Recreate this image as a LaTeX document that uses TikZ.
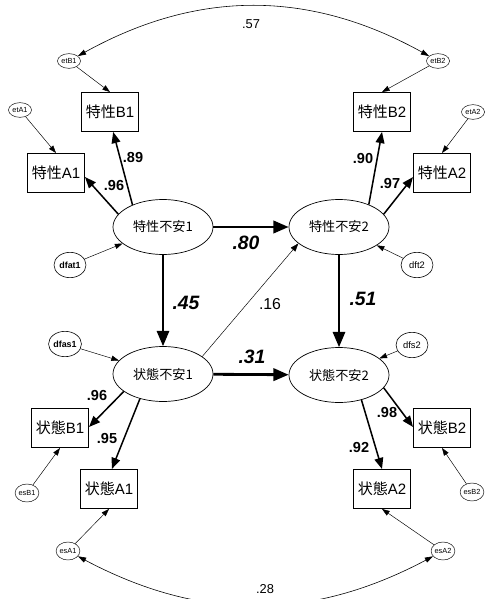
\documentclass[tikz,border=0pt]{standalone}
\usepackage{fontspec}
\setmainfont{Liberation Sans}
\newfontfamily\jp{Noto Sans CJK JP}
\usetikzlibrary{arrows.meta,shapes.geometric}

\begin{document}
\begin{tikzpicture}[x=0.03cm, y=-0.03cm,
    obs/.style={draw, line width=0.8pt, minimum width=1.71cm, minimum height=1.17cm,
                inner sep=1pt, font=\fontsize{12.8}{14}\selectfont},
    lat/.style={draw, ellipse, line width=0.6pt, minimum width=3cm, minimum height=1.65cm,
                inner sep=0pt, font=\jp\fontsize{11.2}{13}\selectfont},
    err/.style={draw, ellipse, line width=0.4pt, minimum width=0.69cm, minimum height=0.44cm,
                inner sep=0pt, font=\fontsize{6.3}{7}\selectfont},
    dis/.style={draw, ellipse, line width=0.5pt, minimum width=0.96cm, minimum height=0.76cm,
                inner sep=0pt, font=\fontsize{8}{9}\selectfont},
    load/.style={line width=1.3pt, -{Triangle[length=9.5pt,width=7.5pt]}},
    strong/.style={line width=2.4pt, -{Triangle[length=13pt,width=10.5pt]}},
    medium/.style={line width=1.8pt, -{Triangle[length=13pt,width=10.5pt]}},
    weak/.style={line width=0.4pt, -{Triangle[length=7pt,width=5pt]}},
    errarr/.style={line width=0.4pt, -{Triangle[length=6.5pt,width=4.5pt]}},
    cov/.style={line width=0.5pt, {Triangle[length=7pt,width=4.5pt]}-{Triangle[length=7pt,width=4.5pt]}},
    coef/.style={font=\bfseries\fontsize{12.4}{14}\selectfont},
    big/.style={font=\bfseries\itshape\fontsize{16.5}{18}\selectfont}]

    \useasboundingbox (0,0) rectangle (490,599);

    % Latent variables
    \node[lat] (t1) at (163,227) {特性不安1};
    \node[lat] (t2) at (339,227) {特性不安2};
    \node[lat] (s1) at (163,374) {状態不安1};
    \node[lat] (s2) at (339,375) {状態不安2};

    % Observed variables
    \node[obs] (tb1) at (110,112) {{\jp 特性}B1};
    \node[obs] (ta1) at (56,173)  {{\jp 特性}A1};
    \node[obs] (tb2) at (382,112) {{\jp 特性}B2};
    \node[obs] (ta2) at (442,173) {{\jp 特性}A2};
    \node[obs] (sb1) at (60,428)  {{\jp 状態}B1};
    \node[obs] (sa1) at (109,489) {{\jp 状態}A1};
    \node[obs] (sb2) at (442,428) {{\jp 状態}B2};
    \node[obs] (sa2) at (382,489) {{\jp 状態}A2};

    % Error terms
    \node[err] (etB1) at (69,61)   {etB1};
    \node[err] (etA1) at (20,110)  {etA1};
    \node[err] (etB2) at (438,61)  {etB2};
    \node[err] (etA2) at (473,112) {etA2};
    \node[err, minimum height=0.54cm] (esB1) at (27,493)  {esB1};
    \node[err, minimum height=0.54cm] (esA1) at (68,551)  {esA1};
    \node[err, minimum height=0.54cm] (esB2) at (472,492) {esB2};
    \node[err, minimum height=0.54cm] (esA2) at (443,551) {esA2};

    % Disturbances
    \node[dis, font=\bfseries\fontsize{7.6}{9}\selectfont] (dfat1) at (70,265) {dfat1};
    \node[dis, font=\bfseries\fontsize{7.6}{9}\selectfont] (dfas1) at (65,344) {dfas1};
    \node[dis] (dft2) at (417,265) {dft2};
    \node[dis] (dfs2) at (412,345) {dfs2};

    % Loadings
    \draw[load] (t1.144) -- (tb1.-81);
    \draw[load] (t1.164) -- (ta1.-8);
    \draw[load] (t2.37)  -- (tb2.south);
    \draw[load] (t2.16)  -- (ta2.-172);
    \draw[load] (s1.204) -- (sb1.2);
    \draw[load] (s1.227) -- (sa1.82);
    \draw[load] (s2.-16) -- (sb2.178);
    \draw[load] (s2.-48) -- (sa2.north);

    % Structural paths
    \draw[strong] (t1) -- (t2);
    \draw[strong] (s1) -- (s2);
    \draw[medium] (t1) -- (s1);
    \draw[medium] (t2) -- (s2);
    \draw[weak] (s1.24) -- (t2.202);

    % Residual arrows
    \draw[errarr] (etB1) -- (tb1.north);
    \draw[errarr] (etA1) -- (ta1.north);
    \draw[errarr] (etB2) -- (tb2.north);
    \draw[errarr] (etA2) -- (ta2.north);
    \draw[errarr] (esB1) -- (sb1.south);
    \draw[errarr] (esA1) -- (sa1.south);
    \draw[errarr] (esB2) -- (sb2.south);
    \draw[errarr] (esA2) -- (sa2.south);
    \draw[errarr] (dfat1) -- (t1);
    \draw[errarr] (dfas1) -- (s1);
    \draw[errarr] (dft2) -- (t2);
    \draw[errarr] (dfs2) -- (s2);

    % Correlations
    \draw[cov] (etB1) to[out=29, in=151] (etB2);
    \draw[cov] (esA1) to[out=-28, in=-152] (esA2);

    % Coefficients
    \node[coef] at (133,158) {.89};
    \node[coef] at (114,185) {.96};
    \node[coef] at (363,159) {.90};
    \node[coef] at (390,183) {.97};
    \node[coef] at (97,395)  {.96};
    \node[coef] at (107,438) {.95};
    \node[coef] at (387,412) {.98};
    \node[coef] at (359,447) {.92};
    \node[big] at (246,243) {.80};
    \node[big] at (186,303) {.45};
    \node[big] at (363,299) {.51};
    \node[big] at (252,357) {.31};
    \node[font=\fontsize{13.5}{15}\selectfont] at (270,304) {.16};
    \node[font=\fontsize{11}{13}\selectfont] at (251,24)  {.57};
    \node[font=\fontsize{11}{13}\selectfont] at (265,589) {.28};

\end{tikzpicture}
\end{document}
